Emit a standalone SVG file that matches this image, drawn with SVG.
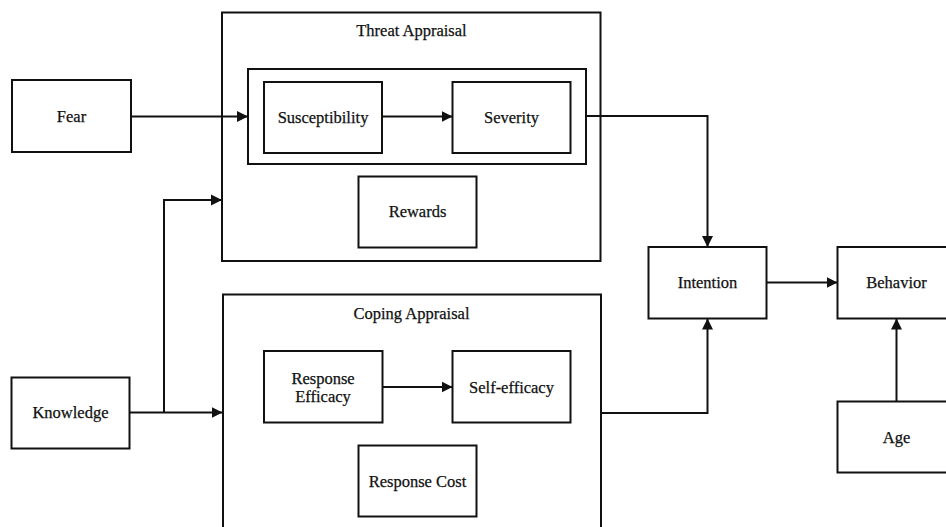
<svg xmlns="http://www.w3.org/2000/svg" width="946" height="527" viewBox="0 0 946 527">
<style>
.box{fill:#fff;stroke:#111;stroke-width:2}
.ctn{fill:none;stroke:#111;stroke-width:2}
.lbl{font-family:'Liberation Serif','DejaVu Serif',serif;font-size:16.5px;fill:#111;text-anchor:middle;dominant-baseline:central;stroke:#111;stroke-width:0.25px}
.edge{fill:none;stroke:#111;stroke-width:2}
</style>
<defs>
<marker id="ah" markerUnits="userSpaceOnUse" markerWidth="12" markerHeight="12" refX="11" refY="6" orient="auto">
<path d="M0,0.5 L11,6 L0,11.5 z" fill="#111"/>
</marker>
</defs>
<rect width="946" height="527" fill="#fff"/>
<g id="threat-appraisal">
<rect class="ctn" x="222" y="12.5" width="378.5" height="248.5"/>
<text class="lbl" x="411.5" y="30.5" font-family="Liberation Serif, serif">Threat Appraisal</text>
<rect id="threat-inner" class="ctn" x="248" y="69" width="338" height="95"/>
</g>
<g id="coping-appraisal">
<rect class="ctn" x="223" y="294.5" width="378" height="240"/>
<text class="lbl" x="411.5" y="313">Coping Appraisal</text>
</g>
<g id="fear"><rect class="box" x="12" y="80" width="119" height="72"/><text class="lbl" x="71.5" y="116">Fear</text></g>
<g id="knowledge"><rect class="box" x="11.5" y="377.5" width="118" height="71"/><text class="lbl" x="70.5" y="412.5">Knowledge</text></g>
<g id="susceptibility"><rect class="box" x="264" y="82" width="118" height="71"/><text class="lbl" x="323" y="117">Susceptibility</text></g>
<g id="severity"><rect class="box" x="452.5" y="82" width="118" height="71"/><text class="lbl" x="511.5" y="117">Severity</text></g>
<g id="rewards"><rect class="box" x="358.5" y="176.5" width="118" height="71"/><text class="lbl" x="417.5" y="211.5">Rewards</text></g>
<g id="response-efficacy"><rect class="box" x="264" y="351" width="118.5" height="71.5"/><text class="lbl" x="323" y="378.5">Response</text><text class="lbl" x="323" y="396.5">Efficacy</text></g>
<g id="self-efficacy"><rect class="box" x="452.5" y="351" width="118" height="71.5"/><text class="lbl" x="511.5" y="387">Self-efficacy</text></g>
<g id="response-cost"><rect class="box" x="358.5" y="445.5" width="118" height="71"/><text class="lbl" x="417.5" y="481.5">Response Cost</text></g>
<g id="intention"><rect class="box" x="648.5" y="247" width="118" height="71.5"/><text class="lbl" x="707.5" y="282.5">Intention</text></g>
<g id="behavior"><rect class="box" x="837.5" y="247" width="119" height="71.5"/><text class="lbl" x="896.5" y="282.5">Behavior</text></g>
<g id="age"><rect class="box" x="837.5" y="401.5" width="119" height="71"/><text class="lbl" x="896.5" y="437">Age</text></g>
<g id="connectors">
<path class="edge" d="M131,116.5 H248" marker-end="url(#ah)"/>
<path class="edge" d="M382,116.5 H452.5" marker-end="url(#ah)"/>
<path class="edge" d="M129.5,412.5 H222.5" marker-end="url(#ah)"/>
<path class="edge" d="M164,412.5 V200 H222" marker-end="url(#ah)"/>
<path class="edge" d="M382.5,387 H452.5" marker-end="url(#ah)"/>
<path class="edge" d="M586,116 H707.5 V247" marker-end="url(#ah)"/>
<path class="edge" d="M601,413 H707.5 V318.5" marker-end="url(#ah)"/>
<path class="edge" d="M766.5,282.5 H837.5" marker-end="url(#ah)"/>
<path class="edge" d="M896.5,401.5 V318.5" marker-end="url(#ah)"/>
</g>
</svg>
